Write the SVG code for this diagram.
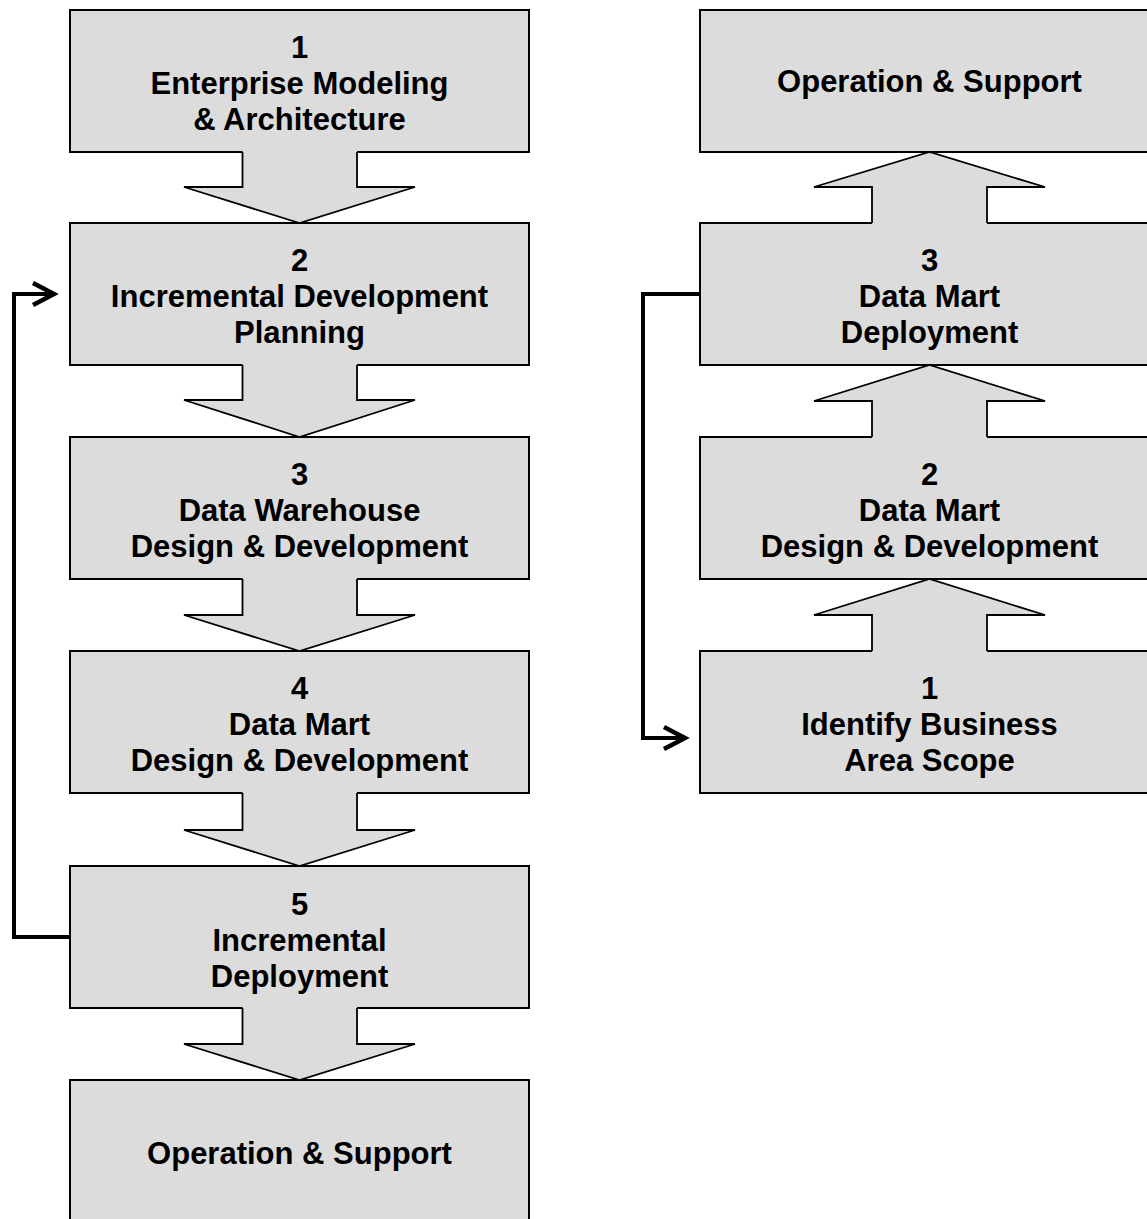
<svg xmlns="http://www.w3.org/2000/svg" width="1147" height="1219" viewBox="0 0 1147 1219">
  <style>
    .box { fill: #dcdcdc; stroke: #000; stroke-width: 2; }
    .afill { fill: #dcdcdc; stroke: none; }
    .aline { fill: none; stroke: #000; stroke-width: 1.8; stroke-linejoin: miter; }
    .lbl { font-family: "Liberation Sans", Arial, sans-serif; font-weight: bold; font-size: 31px; text-anchor: middle; fill: #000; }
    .loop { fill: none; stroke: #000; stroke-width: 4; stroke-linejoin: miter; }
  </style>
  <defs>
    <marker id="chev" markerUnits="userSpaceOnUse" markerWidth="40" markerHeight="40" viewBox="-6 -20 40 40" refX="20" refY="0" orient="auto">
      <path d="M0,-11 L21,0 L0,11" fill="none" stroke="#000" stroke-width="4.5" stroke-linejoin="miter"/>
    </marker>
  </defs>
  <rect width="1147" height="1219" fill="#fff"/>

  <!-- Left column: warehouse-first approach -->
  <g id="l1">
    <rect class="box" x="70" y="10" width="459" height="142"/>
    <text class="lbl" x="299.5" y="58">1</text>
    <text class="lbl" x="299.5" y="94">Enterprise Modeling</text>
    <text class="lbl" x="299.5" y="130">&amp; Architecture</text>
  </g>
  <g id="l2">
    <rect class="box" x="70" y="223" width="459" height="142"/>
    <text class="lbl" x="299.5" y="271">2</text>
    <text class="lbl" x="299.5" y="307">Incremental Development</text>
    <text class="lbl" x="299.5" y="343">Planning</text>
  </g>
  <g id="l3">
    <rect class="box" x="70" y="437" width="459" height="142"/>
    <text class="lbl" x="299.5" y="485">3</text>
    <text class="lbl" x="299.5" y="521">Data Warehouse</text>
    <text class="lbl" x="299.5" y="557">Design &amp; Development</text>
  </g>
  <g id="l4">
    <rect class="box" x="70" y="651" width="459" height="142"/>
    <text class="lbl" x="299.5" y="699">4</text>
    <text class="lbl" x="299.5" y="735">Data Mart</text>
    <text class="lbl" x="299.5" y="771">Design &amp; Development</text>
  </g>
  <g id="l5">
    <rect class="box" x="70" y="866" width="459" height="142"/>
    <text class="lbl" x="299.5" y="915">5</text>
    <text class="lbl" x="299.5" y="951">Incremental</text>
    <text class="lbl" x="299.5" y="987">Deployment</text>
  </g>
  <g id="l6">
    <rect class="box" x="70" y="1080" width="459" height="160"/>
    <text class="lbl" x="299.5" y="1164">Operation &amp; Support</text>
  </g>

  <!-- Right column: data-mart-first approach -->
  <g id="r4">
    <rect class="box" x="700" y="10" width="470" height="142"/>
    <text class="lbl" x="929.5" y="92">Operation &amp; Support</text>
  </g>
  <g id="r3">
    <rect class="box" x="700" y="223" width="470" height="142"/>
    <text class="lbl" x="929.5" y="271">3</text>
    <text class="lbl" x="929.5" y="307">Data Mart</text>
    <text class="lbl" x="929.5" y="343">Deployment</text>
  </g>
  <g id="r2">
    <rect class="box" x="700" y="437" width="470" height="142"/>
    <text class="lbl" x="929.5" y="485">2</text>
    <text class="lbl" x="929.5" y="521">Data Mart</text>
    <text class="lbl" x="929.5" y="557">Design &amp; Development</text>
  </g>
  <g id="r1">
    <rect class="box" x="700" y="651" width="470" height="142"/>
    <text class="lbl" x="929.5" y="699">1</text>
    <text class="lbl" x="929.5" y="735">Identify Business</text>
    <text class="lbl" x="929.5" y="771">Area Scope</text>
  </g>

  <g id="connectors">
    <!-- block arrows, left column (downward) -->
    <g transform="translate(0,152)">
      <polygon class="afill" points="242.5,-3 357,-3 357,35 415,35 299.5,71 184,35 242.5,35"/>
      <polyline class="aline" points="242.5,0 242.5,35 184,35 299.5,71 415,35 357,35 357,0"/>
    </g>
    <g transform="translate(0,365)">
      <polygon class="afill" points="242.5,-3 357,-3 357,35 415,35 299.5,72 184,35 242.5,35"/>
      <polyline class="aline" points="242.5,0 242.5,35 184,35 299.5,72 415,35 357,35 357,0"/>
    </g>
    <g transform="translate(0,579)">
      <polygon class="afill" points="242.5,-3 357,-3 357,36 415,36 299.5,72 184,36 242.5,36"/>
      <polyline class="aline" points="242.5,0 242.5,36 184,36 299.5,72 415,36 357,36 357,0"/>
    </g>
    <g transform="translate(0,793)">
      <polygon class="afill" points="242.5,-3 357,-3 357,37 415,37 299.5,73 184,37 242.5,37"/>
      <polyline class="aline" points="242.5,0 242.5,37 184,37 299.5,73 415,37 357,37 357,0"/>
    </g>
    <g transform="translate(0,1008)">
      <polygon class="afill" points="242.5,-3 357,-3 357,36 415,36 299.5,72 184,36 242.5,36"/>
      <polyline class="aline" points="242.5,0 242.5,36 184,36 299.5,72 415,36 357,36 357,0"/>
    </g>

    <!-- block arrows, right column (upward) -->
    <g transform="translate(0,152)">
      <polygon class="afill" points="872,74 987,74 987,35 1045,35 929.5,0 814,35 872,35"/>
      <polyline class="aline" points="872,71 872,35 814,35 929.5,0 1045,35 987,35 987,71"/>
    </g>
    <g transform="translate(0,365)">
      <polygon class="afill" points="872,75 987,75 987,36 1045,36 929.5,0 814,36 872,36"/>
      <polyline class="aline" points="872,72 872,36 814,36 929.5,0 1045,36 987,36 987,72"/>
    </g>
    <g transform="translate(0,579)">
      <polygon class="afill" points="872,75 987,75 987,36 1045,36 929.5,0 814,36 872,36"/>
      <polyline class="aline" points="872,72 872,36 814,36 929.5,0 1045,36 987,36 987,72"/>
    </g>

    <!-- iteration loops -->
    <path class="loop" d="M70,937 H14 V294 H53" marker-end="url(#chev)"/>
    <path class="loop" d="M700,294 H643 V738 H684" marker-end="url(#chev)"/>
  </g>
</svg>
